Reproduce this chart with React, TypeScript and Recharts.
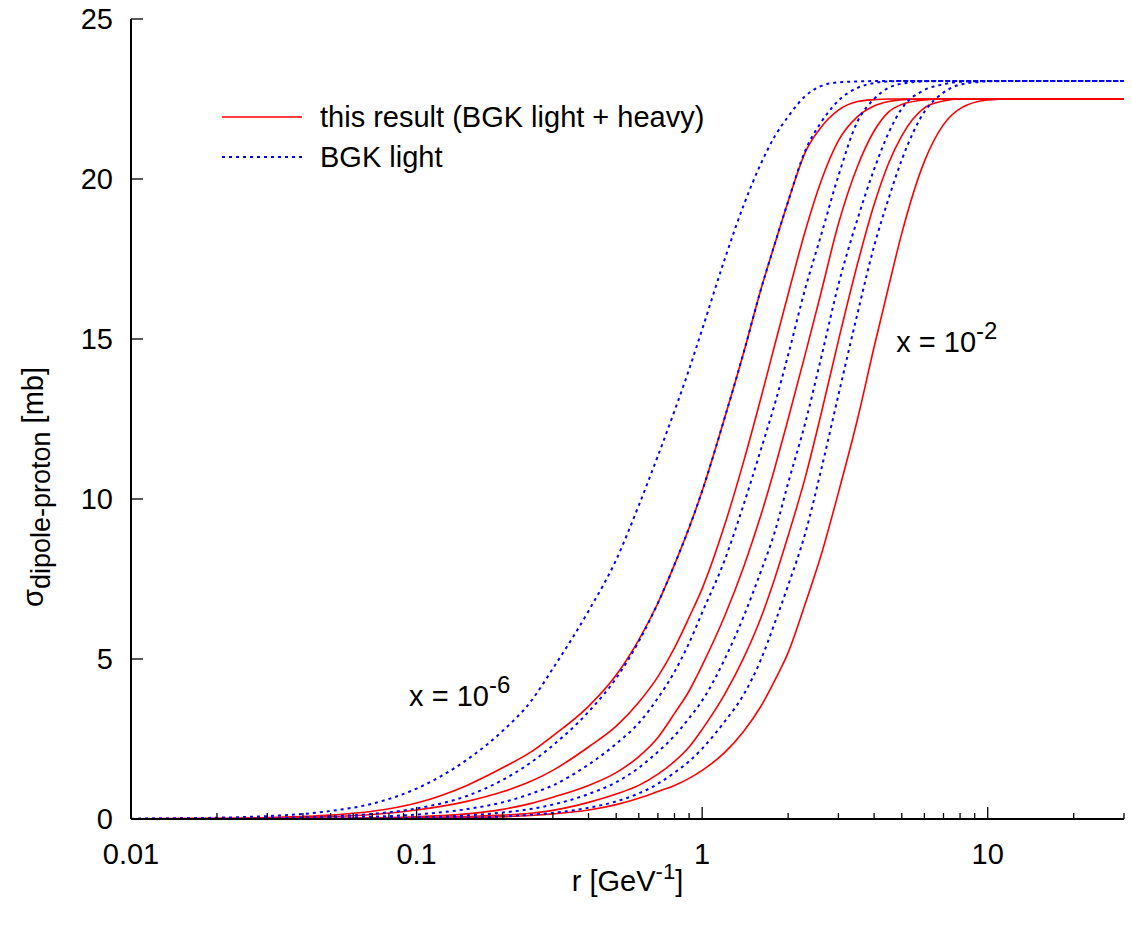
import React from 'react';
import { LineChart, Line, XAxis, YAxis, Legend, ReferenceDot } from 'recharts';

// dipole size r [GeV^-1]
const rValues = [0.01, 0.02, 0.03, 0.05, 0.07, 0.1, 0.15, 0.2, 0.25, 0.3, 0.4, 0.5, 0.6, 0.7, 0.8, 0.9, 1.0, 1.2, 1.4, 1.6, 1.8, 2.0, 2.3, 2.6, 3.0, 3.5, 4.0, 4.5, 5.0, 6.0, 7.0, 8.0, 10, 12, 15, 20, 30];

// this result (BGK light + heavy), x = 1e-6 ... 1e-2
const heavyX6 = [0.005, 0.02, 0.045, 0.12, 0.24, 0.5, 1.05, 1.6, 2.08, 2.6, 3.52, 4.5, 5.6, 6.75, 7.95, 9.1, 10.25, 12.55, 14.6, 16.5, 18.0, 19.3, 20.85, 21.6, 22.15, 22.42, 22.48, 22.5, 22.5, 22.5, 22.5, 22.5, 22.5, 22.5, 22.5, 22.5, 22.5];
const heavyX5 = [0.003, 0.012, 0.027, 0.075, 0.14, 0.28, 0.55, 0.85, 1.17, 1.52, 2.25, 2.9, 3.65, 4.45, 5.35, 6.3, 7.2, 9.2, 11.2, 13.1, 14.85, 16.4, 18.4, 19.9, 21.2, 21.95, 22.28, 22.42, 22.48, 22.5, 22.5, 22.5, 22.5, 22.5, 22.5, 22.5, 22.5];
const heavyX4 = [0.001, 0.003, 0.006, 0.018, 0.035, 0.07, 0.16, 0.3, 0.48, 0.68, 1.05, 1.45, 1.95, 2.55, 3.3, 4.0, 4.8, 6.35, 7.9, 9.45, 11.0, 12.5, 14.55, 16.4, 18.6, 20.4, 21.5, 22.1, 22.33, 22.47, 22.5, 22.5, 22.5, 22.5, 22.5, 22.5, 22.5];
const heavyX3 = [0.0003, 0.0015, 0.003, 0.01, 0.02, 0.04, 0.08, 0.12, 0.18, 0.27, 0.52, 0.78, 1.05, 1.4, 1.8, 2.25, 2.8, 3.9, 5.05, 6.25, 7.55, 8.85, 10.7, 12.6, 14.95, 17.35, 19.2, 20.5, 21.35, 22.22, 22.44, 22.5, 22.5, 22.5, 22.5, 22.5, 22.5];
const heavyX2 = [0.0002, 0.0006, 0.0015, 0.004, 0.008, 0.018, 0.04, 0.07, 0.11, 0.16, 0.28, 0.45, 0.65, 0.86, 1.05, 1.27, 1.52, 2.08, 2.75, 3.5, 4.35, 5.2, 6.75, 8.2, 10.2, 12.5, 14.75, 16.65, 18.3, 20.55, 21.7, 22.2, 22.47, 22.5, 22.5, 22.5, 22.5];

// BGK light, x = 1e-6 ... 1e-2
const lightX6 = [0.01, 0.04, 0.09, 0.25, 0.48, 0.95, 1.85, 2.75, 3.65, 4.7, 6.5, 8.1, 9.8, 11.35, 12.75, 14.05, 15.3, 17.5, 19.2, 20.45, 21.35, 21.95, 22.6, 22.9, 23.02, 23.05, 23.06, 23.06, 23.06, 23.06, 23.06, 23.06, 23.06, 23.06, 23.06, 23.06, 23.06];
const lightX5 = [0.003, 0.012, 0.028, 0.08, 0.16, 0.33, 0.72, 1.22, 1.75, 2.3, 3.35, 4.4, 5.55, 6.75, 7.95, 9.1, 10.25, 12.55, 14.6, 16.5, 18.0, 19.3, 20.9, 21.75, 22.45, 22.85, 23.0, 23.05, 23.06, 23.06, 23.06, 23.06, 23.06, 23.06, 23.06, 23.06, 23.06];
const lightX4 = [0.001, 0.005, 0.012, 0.035, 0.07, 0.14, 0.31, 0.52, 0.78, 1.05, 1.7, 2.35, 3.0, 3.78, 4.6, 5.5, 6.45, 8.1, 9.85, 11.5, 13.0, 14.5, 16.6, 18.2, 20.1, 21.8, 22.5, 22.85, 22.98, 23.05, 23.06, 23.06, 23.06, 23.06, 23.06, 23.06, 23.06];
const lightX3 = [0.0005, 0.002, 0.005, 0.012, 0.025, 0.05, 0.11, 0.2, 0.31, 0.45, 0.78, 1.15, 1.6, 2.1, 2.6, 3.15, 3.7, 5.0, 6.35, 7.7, 9.0, 10.5, 12.4, 14.35, 16.7, 18.75, 20.3, 21.45, 22.2, 22.78, 22.96, 23.04, 23.06, 23.06, 23.06, 23.06, 23.06];
const lightX2 = [0.0002, 0.0008, 0.002, 0.005, 0.01, 0.02, 0.045, 0.08, 0.13, 0.19, 0.35, 0.55, 0.8, 1.1, 1.45, 1.8, 2.2, 3.05, 3.9, 4.95, 6.15, 7.3, 8.95, 10.85, 13.25, 15.8, 17.9, 19.4, 20.6, 22.1, 22.7, 22.95, 23.05, 23.06, 23.06, 23.06, 23.06];

const xTickValues = [0.01, 0.02, 0.03, 0.04, 0.05, 0.06, 0.07, 0.08, 0.09, 0.1, 0.2, 0.3, 0.4, 0.5, 0.6, 0.7, 0.8, 0.9, 1, 2, 3, 4, 5, 6, 7, 8, 9, 10, 20, 30];
const xMajorTicks = [0.01, 0.1, 1, 10];
const xMajorLabels = ['0.01', '0.1', '1', '10'];
const yTickValues = [0, 5, 10, 15, 20, 25];
const legendLabels = ['this result (BGK light + heavy)', 'BGK light'];

const FONT = "'Liberation Sans', Arial, Helvetica, sans-serif";
const FS = 29;
const RED = '#ff0000';
const BLUE = '#0000ff';
const DASH = '3 4';

const rows = rValues.map((r, i) => ({
  r,
  h6: heavyX6[i], h5: heavyX5[i], h4: heavyX4[i], h3: heavyX3[i], h2: heavyX2[i],
  l6: lightX6[i], l5: lightX5[i], l4: lightX4[i], l3: lightX3[i], l2: lightX2[i],
}));

const heavyKeys = ['h6', 'h5', 'h4', 'h3', 'h2'];
const lightKeys = ['l6', 'l5', 'l4', 'l3', 'l2'];

const majorIndex = (v: number) => xMajorTicks.findIndex((m) => Math.abs(m - v) < 1e-9);

const BottomTick = (p: any) => {
  const v = p.payload.value;
  const mi = majorIndex(v);
  const len = mi >= 0 ? 12 : 6;
  return (
    <g>
      <line x1={p.x} x2={p.x} y1={p.y} y2={p.y - len} stroke="#000" strokeWidth={1.3} />
      {mi >= 0 && (
        <text x={p.x} y={p.y + 45} textAnchor="middle" fontFamily={FONT} fontSize={FS} fill="#000">
          {xMajorLabels[mi]}
        </text>
      )}
    </g>
  );
};

const TopTick = (p: any) => {
  const v = p.payload.value;
  const len = majorIndex(v) >= 0 ? 12 : 6;
  return <line x1={p.x} x2={p.x} y1={p.y} y2={p.y + len} stroke="#000" strokeWidth={1.3} />;
};

const LeftTick = (p: any) => (
  <g>
    <line x1={p.x} x2={p.x + 12} y1={p.y} y2={p.y} stroke="#000" strokeWidth={1.3} />
    <text x={p.x - 18} y={p.y} dy="0.36em" textAnchor="end" fontFamily={FONT} fontSize={FS} fill="#000">
      {String(p.payload.value)}
    </text>
  </g>
);

const RightTick = (p: any) => (
  <line x1={p.x} x2={p.x - 12} y1={p.y} y2={p.y} stroke="#000" strokeWidth={1.3} />
);

const XLabel = (p: any) => {
  const vb = p.viewBox;
  const cx = vb.x + vb.width / 2;
  const y = vb.y + 72;
  return (
    <text x={cx} y={y} textAnchor="middle" fontFamily={FONT} fontSize={FS} fill="#000">
      r [GeV
      <tspan dy={-12} fontSize={22}>-1</tspan>
      <tspan dy={12}>]</tspan>
    </text>
  );
};

const YLabel = (p: any) => {
  const vb = p.viewBox;
  const x = 43;
  const y = vb.y + vb.height / 2 + 68;
  return (
    <text x={x} y={y} transform={`rotate(-90, ${x}, ${y})`} textAnchor="middle" fontFamily={FONT} fontSize={FS} fill="#000">
      σ
      <tspan dy={7} fontSize={27}>dipole-proton</tspan>
      <tspan dy={-7}> [mb]</tspan>
    </text>
  );
};

const annotation = (exp: string) => (p: any) => {
  const vb = p.viewBox;
  return (
    <text x={vb.x} y={vb.y} fontFamily={FONT} fontSize={FS} fill="#000">
      x = 10
      <tspan dy={-13} fontSize={24}>{exp}</tspan>
    </text>
  );
};

const LegendBox = () => (
  <svg width={560} height={90} style={{ display: 'block' }}>
    <line x1={22} x2={102} y1={27} y2={27} stroke={RED} strokeWidth={1.5} />
    <text x={120} y={37} fontFamily={FONT} fontSize={FS} fill="#000">{legendLabels[0]}</text>
    <line x1={22} x2={102} y1={67} y2={67} stroke={BLUE} strokeWidth={2} strokeDasharray={DASH} />
    <text x={120} y={77} fontFamily={FONT} fontSize={FS} fill="#000">{legendLabels[1]}</text>
  </svg>
);

export default function App() {
  return (
    <div style={{ position: 'absolute', left: 0, top: 0, width: 1132, height: 927, background: '#fff' }}>
      <LineChart width={1132} height={927} data={rows} margin={{ top: 19, right: 8, bottom: 0, left: 0 }}>
        <XAxis
          dataKey="r"
          type="number"
          scale="log"
          domain={[0.01, 30]}
          allowDataOverflow
          ticks={xTickValues}
          interval={0}
          tickSize={0}
          tickMargin={0}
          height={108}
          tick={(p: any) => <BottomTick {...p} />}
          tickLine={false}
          axisLine={{ stroke: '#000', strokeWidth: 2 }}
          label={{ content: XLabel }}
        />
        <XAxis
          xAxisId="top"
          dataKey="r"
          orientation="top"
          type="number"
          scale="log"
          domain={[0.01, 30]}
          allowDataOverflow
          ticks={xTickValues}
          interval={0}
          tickSize={0}
          tickMargin={0}
          height={0}
          tick={(p: any) => <TopTick {...p} />}
          tickLine={false}
          axisLine={{ stroke: '#000', strokeWidth: 2 }}
        />
        <YAxis
          type="number"
          domain={[0, 25]}
          ticks={yTickValues}
          interval={0}
          tickSize={0}
          tickMargin={0}
          width={131}
          tick={(p: any) => <LeftTick {...p} />}
          tickLine={false}
          axisLine={{ stroke: '#000', strokeWidth: 2 }}
          label={{ content: YLabel }}
        />
        <YAxis
          yAxisId="right"
          orientation="right"
          type="number"
          domain={[0, 25]}
          ticks={yTickValues}
          interval={0}
          tickSize={0}
          tickMargin={0}
          width={0}
          tick={(p: any) => <RightTick {...p} />}
          tickLine={false}
          axisLine={{ stroke: '#000', strokeWidth: 2 }}
        />
        <Legend
          layout="horizontal"
          verticalAlign="middle"
          align="center"
          content={() => <LegendBox />}
          wrapperStyle={{ position: 'absolute', left: 200, top: 90, width: 560, height: 90 }}
        />
        {heavyKeys.map((k) => (
          <Line key={k} dataKey={k} type="monotone" stroke={RED} strokeWidth={1.6} dot={false} activeDot={false} isAnimationActive={false} legendType="none" />
        ))}
        {lightKeys.map((k) => (
          <Line key={k} dataKey={k} type="monotone" stroke={BLUE} strokeWidth={2} strokeDasharray={DASH} dot={false} activeDot={false} isAnimationActive={false} legendType="none" />
        ))}
        <ReferenceDot x={0.0949} y={3.5} r={1} fill="none" stroke="none" ifOverflow="visible" label={{ content: annotation('-6') }} />
        <ReferenceDot x={4.82} y={14.56} r={1} fill="none" stroke="none" ifOverflow="visible" label={{ content: annotation('-2') }} />
      </LineChart>
    </div>
  );
}
